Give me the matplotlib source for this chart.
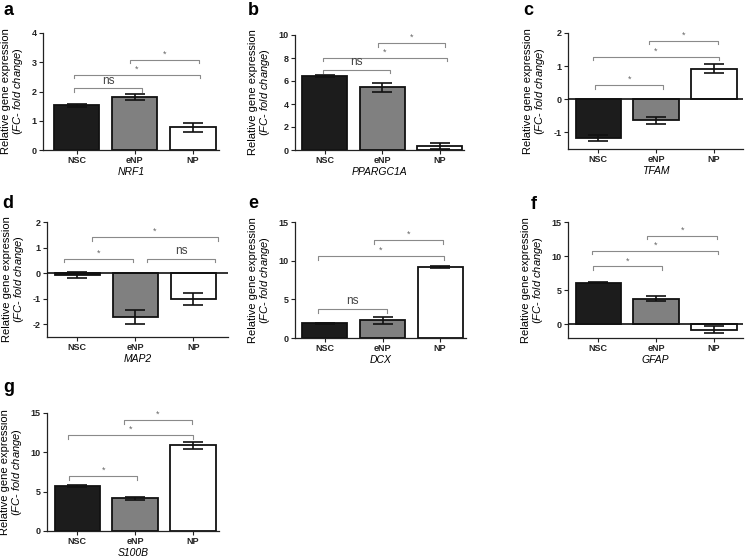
import matplotlib
matplotlib.use("Agg")
import matplotlib.pyplot as plt

plt.rcParams['font.family'] = ['Liberation Sans', 'DejaVu Sans']
plt.rcParams['mathtext.fontset'] = 'custom'
plt.rcParams['mathtext.it'] = 'Liberation Sans:italic'
plt.rcParams['mathtext.rm'] = 'Liberation Sans'
plt.rcParams['axes.unicode_minus'] = False

groups = ['NSC', 'eNP', 'NP']
genes = ['NRF1', 'PPARGC1A', 'TFAM', 'MAP2', 'DCX', 'GFAP', 'S100B']
letters = ['a', 'b', 'c', 'd', 'e', 'f', 'g']

# mean fold change and error (SEM) per gene, order NSC, eNP, NP
means = [
    [1.53, 1.80, 0.78],
    [6.42, 5.45, 0.36],
    [-1.17, -0.63, 0.92],
    [-0.07, -1.72, -1.01],
    [1.92, 2.27, 9.15],
    [6.12, 3.75, -0.78],
    [5.75, 4.15, 10.9],
]
errs = [
    [0.05, 0.10, 0.16],
    [0.08, 0.38, 0.25],
    [0.10, 0.11, 0.14],
    [0.11, 0.27, 0.25],
    [0.06, 0.40, 0.12],
    [0.08, 0.35, 0.48],
    [0.12, 0.15, 0.45],
]
ylims = [(0, 4), (0, 10), (-1.5, 2), (-2.5, 2), (0, 15), (-2, 15), (0, 15)]
yticks = [
    [0, 1, 2, 3, 4],
    [0, 2, 4, 6, 8, 10],
    [-1, 0, 1, 2],
    [-2, -1, 0, 1, 2],
    [0, 5, 10, 15],
    [0, 5, 10, 15],
    [0, 5, 10, 15],
]
# significance brackets: (x start, x end, height, label)
brackets = [
    [(-0.05, 1.13, 2.11, 'ns'), (-0.05, 2.12, 2.57, '*'), (0.91, 2.1, 3.09, '*')],
    [(-0.03, 1.14, 7.0, 'ns'), (-0.03, 2.12, 8.0, '*'), (0.92, 2.09, 9.3, '*')],
    [(-0.05, 1.12, 0.43, '*'), (-0.09, 2.09, 1.29, '*'), (0.88, 2.07, 1.77, '*')],
    [(-0.22, 0.96, 0.56, '*'), (0.25, 2.43, 1.41, '*'), (1.2, 2.38, 0.56, 'ns')],
    [(-0.12, 1.08, 3.73, 'ns'), (-0.12, 2.07, 10.6, '*'), (0.85, 2.05, 12.66, '*')],
    [(-0.09, 1.1, 8.48, '*'), (-0.1, 2.07, 10.8, '*'), (0.85, 2.05, 13.0, '*')],
    [(-0.14, 1.04, 6.98, '*'), (-0.16, 2.0, 12.2, '*'), (0.81, 1.98, 14.1, '*')],
]

bar_colors = ['#1c1c1c', '#808080', '#ffffff']

# axes boxes in pixels: left, top, right, bottom ; and x limits
W, H = 745, 557
boxes = [
    (43, 33, 219, 150), (295, 35, 464, 150), (568, 33, 743, 149),
    (47, 222, 228, 337), (295, 222, 466, 338), (568, 222, 743, 338),
    (47, 413, 219, 531),
]
xlims = [(-0.58, 2.45), (-0.52, 2.42), (-0.52, 2.5),
         (-0.52, 2.6), (-0.52, 2.45), (-0.52, 2.5), (-0.52, 2.45)]
letter_pos = [(3, 15), (248, 15), (523, 15), (2, 208), (248, 208), (531, 209), (3, 392)]

fig = plt.figure(figsize=(W / 100, H / 100), dpi=100)

for k in range(len(genes)):
    l, t, r, b = boxes[k]
    ax = fig.add_axes([l / W, 1 - b / H, (r - l) / W, (b - t) / H])
    x = range(len(groups))
    ax.bar(x, means[k], width=0.78, color=bar_colors, edgecolor='#111111',
           linewidth=1.3, zorder=2)
    ax.errorbar(x, means[k], yerr=errs[k], fmt='none', ecolor='#111111',
                elinewidth=1.2, capsize=7.5, capthick=1.2, zorder=3)
    ax.set_xlim(*xlims[k])
    ax.set_ylim(*ylims[k])
    ax.set_yticks(yticks[k])
    ax.set_xticks(list(x))
    ax.set_xticklabels(groups)
    if ylims[k][0] < 0:
        ax.axhline(0, color='#111111', linewidth=1.2, zorder=4)

    for s in ['top', 'right']:
        ax.spines[s].set_visible(False)
    for s in ['left', 'bottom']:
        ax.spines[s].set_linewidth(0.9)
        ax.spines[s].set_color('#222222')
    ax.tick_params(axis='both', direction='out', length=3, width=0.8,
                   labelsize=6.5, pad=1.5, colors='#222222')
    for lab in ax.get_xticklabels() + ax.get_yticklabels():
        lab.set_fontweight('bold')

    ax.set_xlabel(genes[k], fontstyle='italic', fontsize=7.5, labelpad=1)
    ax.set_ylabel('Relative gene expression\n' + r'($\mathit{FC}$- $\mathit{fold\ change}$)',
                  fontsize=8, linespacing=1.0, labelpad=5)

    yr = ylims[k][1] - ylims[k][0]
    drop = 0.03 * yr
    for x1, x2, yb, lab in brackets[k]:
        ax.plot([x1, x1, x2, x2], [yb - drop, yb, yb, yb - drop],
                color='#8a8a8a', linewidth=0.8, clip_on=False, zorder=1)
        if lab == 'ns':
            ax.text((x1 + x2) / 2, yb + 0.015 * yr, lab, ha='center', va='bottom',
                    fontsize=8.5, color='#444444')
        else:
            ax.text((x1 + x2) / 2, yb + 0.01 * yr, lab, ha='center', va='bottom',
                    fontsize=6.5, color='#666666')

    lx, ly = letter_pos[k]
    fig.text(lx / W, 1 - ly / H, letters[k], fontsize=13, fontweight='bold',
             ha='left', va='baseline')

fig.savefig('out.png', dpi=100)
